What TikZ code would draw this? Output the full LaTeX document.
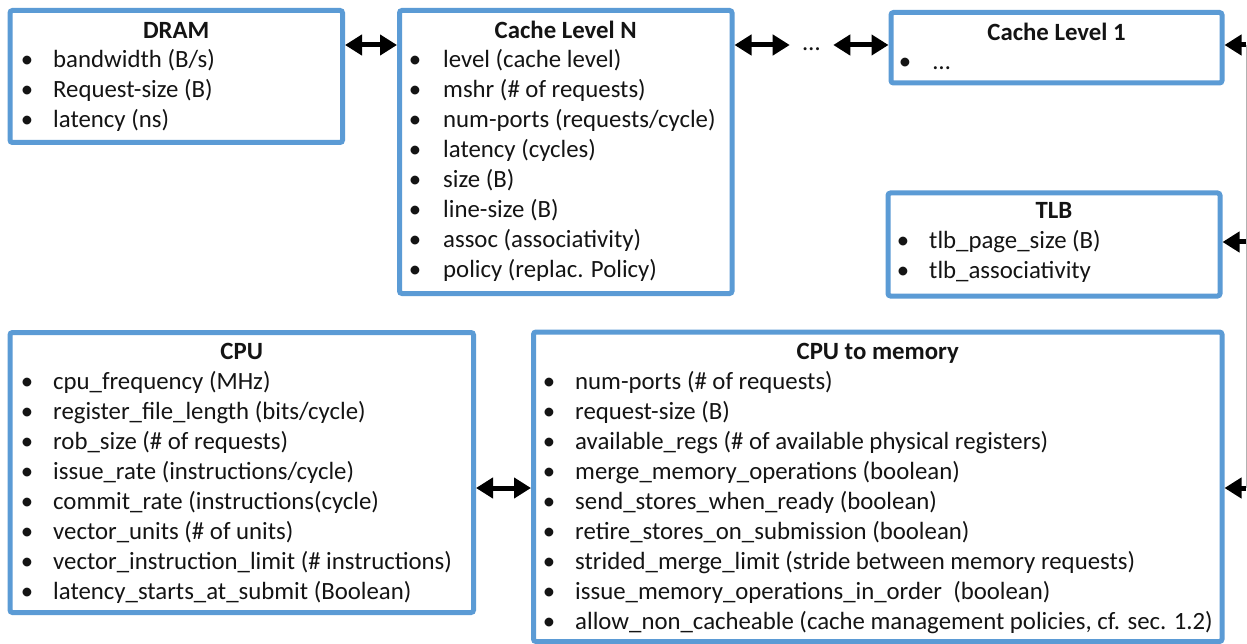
\documentclass[tikz,border=0pt]{standalone}
\usepackage{fontspec}
\setmainfont{Carlito}
\usetikzlibrary{arrows.meta,calc}
\definecolor{boxblue}{HTML}{5B9BD5}
\definecolor{inkgray}{HTML}{141414}
\newcommand\txtsize{\fontsize{24.8}{29}\selectfont}
\tikzset{
  box/.style={draw=boxblue, line width=5pt, rounded corners=2.5pt, fill=white, inner sep=0pt},
  title/.style={font=\txtsize\bfseries, text=inkgray, anchor=base, inner sep=0pt},
  item/.style={font=\txtsize, text=inkgray, anchor=base west, inner sep=0pt},
  bul/.style={font=\txtsize, text=inkgray, anchor=base, inner sep=0pt},
  link/.style={line width=5pt,
    {Triangle[length=17pt,width=20pt]}-{Triangle[length=17pt,width=20pt]}},
  tap/.style={line width=5pt, -{Triangle[length=17pt,width=20pt]}},
  rail/.style={draw=gray!60, line width=1pt}
}
% box from path corner (x1,y1) to (x2,y2), coordinates in pixels
\newcommand\pbox[5]{%
  \node[box, minimum width={(#4-#2)*1pt}, minimum height={(#5-#3)*1pt}]
    (#1) at ({(#2+#4)/2},{(#3+#5)/2}) {};}
\begin{document}
\begin{tikzpicture}[x=1pt,y=-1pt]
\useasboundingbox[fill=white] (0,0) rectangle (1247,644);

% boxes
\pbox{dram}{10}{10.5}{342.5}{142.5}
\pbox{cacheN}{399.5}{10.5}{732}{293.5}
\pbox{cache1}{891}{12.5}{1222}{83}
\pbox{tlb}{888}{193}{1220}{296}
\pbox{cpu}{10}{332.5}{473.5}{612.5}
\pbox{cpumem}{533.5}{332}{1222}{641.5}

% DRAM
\node[title] (dram-t) at (176.25,39) {DRAM};
\foreach \t [count=\i] in {bandwidth (B/s), Request-size (B), latency (ns)} {
  \node[bul] (dram-b\i) at (27,38+30*\i) {•};
  \node[item] (dram-\i) at (53,38+30*\i) {\t};
}

% Cache Level N
\node[title] (cacheN-t) at (565.75,39) {Cache Level N};
\foreach \t [count=\i] in {level (cache level), mshr (\# of requests),
    num-ports (requests/cycle), latency (cycles), size (B), line-size (B),
    assoc (associativity), policy (replac. Policy)} {
  \node[bul] (cacheN-b\i) at (415,38+30*\i) {•};
  \node[item] (cacheN-\i) at (443,38+30*\i) {\t};
}

% Cache Level 1
\node[title] (cache1-t) at (1056.5,41) {Cache Level 1};
\node[bul] (cache1-b1) at (905,70) {•};
\node[item] (cache1-1) at (933,70) {…};

% TLB
\node[title] (tlb-t) at (1054,219) {TLB};
\foreach \t [count=\i] in {tlb\_page\_size (B), tlb\_associativity} {
  \node[bul] (tlb-b\i) at (903,219+30*\i) {•};
  \node[item] (tlb-\i) at (929,219+30*\i) {\t};
}

% CPU
\node[title] (cpu-t) at (241.75,359) {CPU};
\foreach \t [count=\i] in {cpu\_frequency (MHz), register\_file\_length (bits/cycle),
    rob\_size (\# of requests), issue\_rate (instructions/cycle),
    commit\_rate (instructions(cycle), vector\_units (\# of units),
    vector\_instruction\_limit (\# instructions), latency\_starts\_at\_submit (Boolean)} {
  \node[bul] (cpu-b\i) at (27,359+30*\i) {•};
  \node[item] (cpu-\i) at (53,359+30*\i) {\t};
}

% CPU to memory
\node[title] (cpumem-t) at (877.75,359) {CPU to memory};
\foreach \t [count=\i] in {num-ports (\# of requests), request-size (B),
    available\_regs (\# of available physical registers),
    merge\_memory\_operations (boolean), send\_stores\_when\_ready (boolean),
    retire\_stores\_on\_submission (boolean),
    strided\_merge\_limit (stride between memory requests),
    issue\_memory\_operations\_in\_order\ \ (boolean),
    {allow\_non\_cacheable (cache management policies, cf. sec. 1.2)}} {
  \node[bul] (cpumem-b\i) at (549,359+30*\i) {•};
  \node[item] (cpumem-\i) at (575,359+30*\i) {\t};
}

% memory hierarchy links
\coordinate (ytop) at (0,45);
\node[font=\txtsize, text=inkgray, inner xsep=13pt, inner ysep=0pt,
      anchor=base] (dots) at (811.5,51) {…};
\draw[link] (dram.east |- ytop) -- (cacheN.west |- ytop);
\draw[link] (cacheN.east |- ytop) -- (dots.west |- ytop);
\draw[link] (dots.east |- ytop) -- (cache1.west |- ytop);

% CPU link
\coordinate (ymem) at (0,488);
\draw[link] (cpu.east |- ymem) -- (cpumem.west |- ymem);

% right-hand rail feeding cache level 1, TLB and CPU-to-memory
\coordinate (railtop) at (1246,45);
\coordinate (railmid) at (1246,242);
\coordinate (railbot) at (1246,488);
\draw[rail] (railtop) -- (railbot);
\draw[tap] (railtop) -- (cache1.east |- railtop);
\draw[tap] (railmid) -- (tlb.east |- railmid);
\draw[tap] (railbot) -- (cpumem.east |- railbot);
\end{tikzpicture}
\end{document}
